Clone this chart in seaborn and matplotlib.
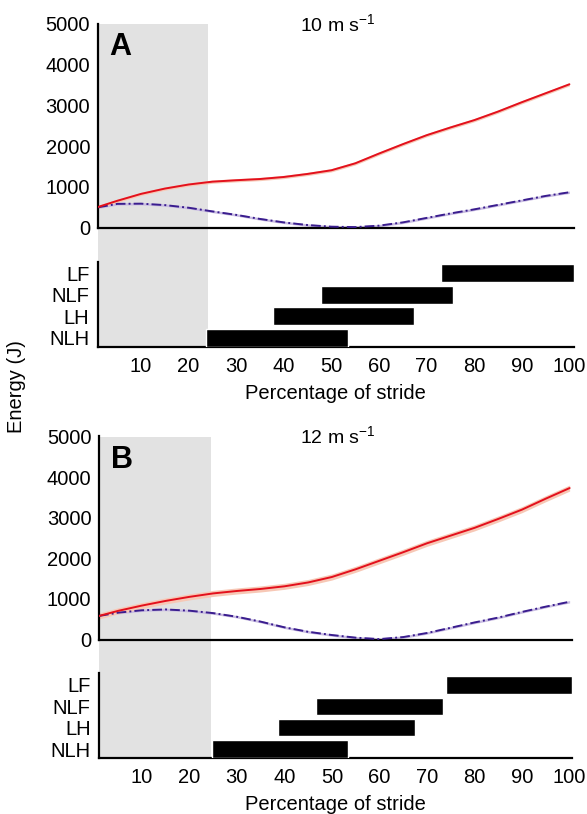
import matplotlib
matplotlib.use("Agg")
import matplotlib.pyplot as plt
import matplotlib.transforms as mtransforms
from matplotlib.patches import Rectangle
import pandas as pd
import seaborn as sns

# ---------------- data ----------------
stride_pct = [1, 5, 10, 15, 20, 25, 30, 35, 40, 45, 50, 55, 60, 65, 70, 75, 80, 85, 90, 95, 100]

red_a = [510, 660, 830, 960, 1060, 1130, 1165, 1195, 1245, 1320, 1410, 1580, 1820, 2050,
         2270, 2460, 2640, 2850, 3080, 3300, 3520]
purple_a = [500, 585, 590, 555, 490, 400, 315, 215, 130, 65, 25, 15, 50, 130,
            240, 350, 450, 560, 670, 780, 870]
red_b = [580, 705, 835, 950, 1050, 1135, 1195, 1245, 1310, 1405, 1540, 1730, 1940, 2150,
         2370, 2560, 2750, 2970, 3200, 3470, 3730]
purple_b = [580, 660, 720, 740, 710, 650, 560, 440, 300, 190, 110, 45, 10, 60,
            160, 290, 420, 540, 680, 810, 930]

red_sd_a = 40
red_sd_b = 75
purple_sd = 30

limbs = ["LF", "NLF", "LH", "NLH"]
a_start = [73.0, 47.8, 37.7, 23.6]
a_end = [100.9, 75.6, 67.3, 53.5]
b_start = [73.9, 46.7, 38.6, 24.7]
b_end = [100.5, 73.3, 67.5, 53.3]

grey_end_a = 24.0
grey_end_b = 24.6

titles = ["10 m s$^{-1}$", "12 m s$^{-1}$"]
letters = ["A", "B"]
xticks = [10, 20, 30, 40, 50, 60, 70, 80, 90, 100]
yticks = [0, 1000, 2000, 3000, 4000, 5000]

# ---------------- style ----------------
sns.set_theme(style="white")
plt.rcParams["font.family"] = ["Liberation Sans", "DejaVu Sans"]
plt.rcParams["mathtext.fontset"] = "custom"
plt.rcParams["mathtext.rm"] = "Liberation Sans"
plt.rcParams["mathtext.it"] = "Liberation Sans:italic"
plt.rcParams["mathtext.bf"] = "Liberation Sans:bold"
for k in ("text.color", "axes.labelcolor", "xtick.color", "ytick.color"):
    plt.rcParams[k] = "black"

FS = 14.5
RED = "#e3101c"
RED_BAND = "#f7c8b6"
PURPLE = "#3a1d8e"
PURPLE_BAND = "#c9bde2"
GREY = "#e2e2e2"

W, H = 587, 814
fig = plt.figure(figsize=(W / 100, H / 100), dpi=100)


def rect(l, r, top, bottom):
    return [l / W, 1 - bottom / H, (r - l) / W, (bottom - top) / H]


panels = [
    dict(e=rect(97.7, 573.7, 24, 227.7), b=rect(97.7, 573.7, 261.7, 347.3),
         xlim=(0.9, 100.9), red=red_a, pur=purple_a, rsd=red_sd_a,
         start=a_start, end=a_end, grey=grey_end_a, bylim=(-0.447, 3.54)),
    dict(e=rect(99, 572, 436.5, 639.5), b=rect(99, 572, 673, 758),
         xlim=(1.0, 100.5), red=red_b, pur=purple_b, rsd=red_sd_b,
         start=b_start, end=b_end, grey=grey_end_b, bylim=(-0.42, 3.56)),
]

for i, p in enumerate(panels):
    axe = fig.add_axes(p["e"])
    axb = fig.add_axes(p["b"])
    for ax in (axe, axb):
        ax.set_facecolor("none")
        ax.set_xlim(*p["xlim"])
        for s in ("top", "right"):
            ax.spines[s].set_visible(False)
        for s in ("left", "bottom"):
            ax.spines[s].set_color("black")
            ax.spines[s].set_linewidth(1.6)
        ax.tick_params(length=0, labelsize=FS, colors="black")

    # grey stance band spanning both axes
    trans = mtransforms.blended_transform_factory(axb.transData, fig.transFigure)
    y0 = p["b"][1]
    y1 = p["e"][1] + p["e"][3]
    fig.patches.append(Rectangle((p["xlim"][0], y0), p["grey"] - p["xlim"][0], y1 - y0,
                                 transform=trans, facecolor=GREY, edgecolor="none",
                                 zorder=-5))

    df = pd.DataFrame({"pct": stride_pct, "red": p["red"], "pur": p["pur"]})
    red_lo = [v - p["rsd"] for v in p["red"]]
    red_hi = [v + p["rsd"] for v in p["red"]]
    pur_lo = [v - purple_sd for v in p["pur"]]
    pur_hi = [v + purple_sd for v in p["pur"]]
    axe.fill_between(stride_pct, pur_lo, pur_hi, color=PURPLE_BAND, lw=0, zorder=1)
    axe.fill_between(stride_pct, red_lo, red_hi, color=RED_BAND, lw=0, zorder=1)
    sns.lineplot(data=df, x="pct", y="pur", ax=axe, color=PURPLE, lw=1.4,
                 linestyle=(0, (5, 1.6, 1, 1.6)), zorder=3)
    sns.lineplot(data=df, x="pct", y="red", ax=axe, color=RED, lw=1.4, zorder=4)
    axe.set_ylim(0, 5000)
    axe.set_yticks(yticks)
    axe.set_xticks([])
    axe.set_xlabel("")
    axe.set_ylabel("")
    axe.tick_params(axis="y", pad=5.5)
    axe.text(0.505, 1.0, titles[i], transform=axe.transAxes, ha="center", va="center",
             fontsize=FS - 0.5)
    axe.text(0.048, 0.885, letters[i], transform=axe.transAxes, ha="center", va="center",
             fontsize=22, fontweight="bold")

    # gait bars
    ypos = [3, 2, 1, 0]
    widths = [e - s for s, e in zip(p["start"], p["end"])]
    axb.barh(ypos, widths, left=p["start"], height=0.82, color="black", zorder=3)
    axb.set_ylim(*p["bylim"])
    axb.set_yticks(ypos)
    axb.set_yticklabels(limbs)
    axb.set_xticks(xticks)
    axb.tick_params(axis="y", pad=6)
    axb.tick_params(axis="x", pad=7)
    axb.set_xlabel("Percentage of stride", fontsize=FS, labelpad=6)

fig.text(17 / W, 1 - 386.5 / H, "Energy (J)", rotation=90, ha="center", va="center",
         fontsize=FS)

fig.savefig("out.png", dpi=100)
